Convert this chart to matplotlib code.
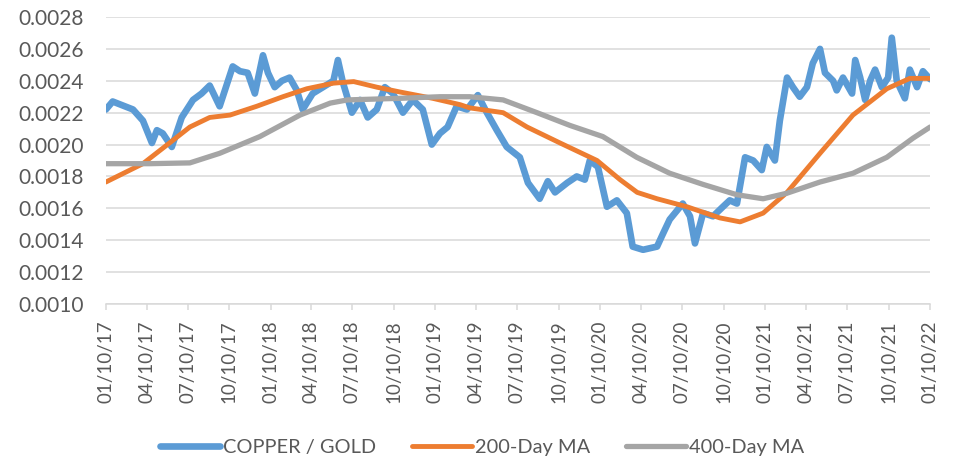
import matplotlib
matplotlib.use("Agg")
import matplotlib.pyplot as plt
import matplotlib.dates as mdates
import pandas as pd

plt.rcParams['font.family'] = ['Lato', 'DejaVu Sans']

# copper / gold ratio
cg_dates = ["2017-01-10", "2017-01-25", "2017-03-11", "2017-04-02", "2017-04-22",
            "2017-05-03", "2017-05-16", "2017-06-05", "2017-06-27", "2017-07-22",
            "2017-08-10", "2017-08-28", "2017-09-19", "2017-10-18", "2017-11-03",
            "2017-11-20", "2017-12-06", "2017-12-24", "2018-01-04", "2018-01-19",
            "2018-02-04", "2018-02-21", "2018-03-09", "2018-03-22", "2018-04-13",
            "2018-05-06", "2018-05-29", "2018-06-08", "2018-06-19", "2018-07-09",
            "2018-07-27", "2018-08-13", "2018-09-02", "2018-09-20", "2018-10-08",
            "2018-10-30", "2018-11-21", "2018-12-13", "2019-01-02", "2019-01-20",
            "2019-02-06", "2019-02-26", "2019-03-21", "2019-04-14", "2019-05-04",
            "2019-05-26", "2019-06-17", "2019-07-16", "2019-08-03", "2019-08-29",
            "2019-09-16", "2019-10-02", "2019-10-29", "2019-11-19", "2019-12-07",
            "2019-12-18", "2020-01-05", "2020-01-25", "2020-02-16", "2020-03-09",
            "2020-03-22", "2020-04-14", "2020-05-15", "2020-05-28", "2020-06-12",
            "2020-07-11", "2020-07-27", "2020-08-07", "2020-08-25", "2020-09-16",
            "2020-10-08", "2020-10-23", "2020-11-08", "2020-11-26", "2020-12-14",
            "2021-01-02", "2021-01-13", "2021-01-31", "2021-02-11", "2021-02-27",
            "2021-03-12", "2021-03-27", "2021-04-12", "2021-04-25", "2021-05-11",
            "2021-05-22", "2021-06-09", "2021-06-17", "2021-07-01", "2021-07-21",
            "2021-07-28", "2021-08-08", "2021-08-19", "2021-08-30", "2021-09-10",
            "2021-09-25", "2021-10-09", "2021-10-17", "2021-10-28", "2021-11-15",
            "2021-11-26", "2021-12-12", "2021-12-25", "2022-01-10"]
cg_vals = [0.00222, 0.00227, 0.00222, 0.00215, 0.00201, 0.00209, 0.00207, 0.001985,
           0.00217, 0.00228, 0.00232, 0.00237, 0.00224, 0.00249, 0.00246, 0.00245,
           0.00232, 0.00256, 0.00245, 0.00236, 0.00240, 0.00242, 0.00234, 0.00222,
           0.00232, 0.00236, 0.00240, 0.00253, 0.00239, 0.00220, 0.00228, 0.00217,
           0.00222, 0.00236, 0.00232, 0.00220, 0.00228, 0.00222, 0.00200, 0.00207,
           0.00211, 0.00224, 0.00222, 0.00231, 0.00220, 0.00209, 0.001985, 0.00192,
           0.00176, 0.00166, 0.00177, 0.00170, 0.00176, 0.00180, 0.00178, 0.00190,
           0.00186, 0.00161, 0.00165, 0.00157, 0.00136, 0.00134, 0.00136, 0.00144,
           0.00153, 0.00163, 0.00155, 0.00138, 0.00157, 0.00155, 0.00161, 0.00165,
           0.00163, 0.00192, 0.00190, 0.00184, 0.001985, 0.00190, 0.00215, 0.00242,
           0.00236, 0.00230, 0.00236, 0.00251, 0.00260, 0.00245, 0.00240, 0.00234,
           0.00242, 0.00232, 0.00253, 0.00242, 0.00228, 0.00240, 0.00247, 0.00236,
           0.00242, 0.00267, 0.00240, 0.00229, 0.00247, 0.00236, 0.00246, 0.00241]

ma200_dates = ["2017-01-10", "2017-04-02", "2017-05-31", "2017-07-15", "2017-08-28",
               "2017-10-12", "2017-12-10", "2018-02-06", "2018-03-31", "2018-05-29",
               "2018-07-13", "2018-09-02", "2018-10-23", "2019-01-04", "2019-03-06",
               "2019-03-27", "2019-06-09", "2019-08-01", "2019-10-13", "2020-01-03",
               "2020-02-23", "2020-04-01", "2020-05-15", "2020-07-20", "2020-10-01",
               "2020-11-15", "2021-01-05", "2021-02-27", "2021-05-11", "2021-07-23",
               "2021-10-06", "2021-11-26", "2022-01-10"]
ma200_vals = [0.001765, 0.00188, 0.00201, 0.00211, 0.00217, 0.002185, 0.00224, 0.00230,
              0.00235, 0.002385, 0.002395, 0.00236, 0.00233, 0.00229, 0.00225, 0.00223,
              0.00220, 0.00211, 0.00201, 0.00190, 0.00178, 0.00170, 0.00166, 0.00161,
              0.00154, 0.001515, 0.00157, 0.00170, 0.001945, 0.002185, 0.00235,
              0.002415, 0.002415]

ma400_dates = ["2017-01-10", "2017-04-17", "2017-07-15", "2017-09-19", "2017-12-17",
               "2018-03-16", "2018-05-22", "2018-06-29", "2018-10-23", "2019-01-20",
               "2019-03-27", "2019-06-09", "2019-08-23", "2019-11-04", "2020-01-16",
               "2020-03-31", "2020-06-12", "2020-08-25", "2020-11-08", "2021-01-05",
               "2021-02-27", "2021-05-11", "2021-07-23", "2021-10-06", "2021-12-03",
               "2022-01-10"]
ma400_vals = [0.00188, 0.00188, 0.001885, 0.001945, 0.00205, 0.002185, 0.00226, 0.00228,
              0.00229, 0.00230, 0.00230, 0.00228, 0.00220, 0.00212, 0.00205, 0.00192,
              0.00182, 0.00175, 0.001685, 0.00166, 0.001695, 0.001765, 0.00182,
              0.00192, 0.00204, 0.00211]

tick_dates = pd.date_range("2017-01-10", periods=21, freq=pd.DateOffset(months=3))
y_ticks = [0.0010, 0.0012, 0.0014, 0.0016, 0.0018, 0.0020, 0.0022, 0.0024, 0.0026, 0.0028]

fig = plt.figure(figsize=(9.54, 4.61), dpi=100)
ax = fig.add_axes([0.111, 0.3406, 0.864, 0.6225])

ax.plot(pd.to_datetime(cg_dates), cg_vals, color="#5B9BD5", lw=4.8,
        solid_joinstyle="round", solid_capstyle="round", label="COPPER / GOLD")
ax.plot(pd.to_datetime(ma200_dates), ma200_vals, color="#ED7D31", lw=3.5,
        solid_joinstyle="round", solid_capstyle="round", label="200-Day MA")
ax.plot(pd.to_datetime(ma400_dates), ma400_vals, color="#A5A5A5", lw=3.8,
        solid_joinstyle="round", solid_capstyle="round", label="400-Day MA")

ax.set_xlim(pd.Timestamp("2017-01-10"), pd.Timestamp("2022-01-10"))
ax.set_ylim(0.0010, 0.0028)
ax.set_yticks(y_ticks)
ax.set_yticklabels(["{:.4f}".format(v) for v in y_ticks])
ax.set_xticks(tick_dates)
ax.xaxis.set_major_formatter(mdates.DateFormatter("%m/%d/%y"))
ax.grid(axis="y", color="#D9D9D9", lw=1.1)
ax.set_axisbelow(True)

for s in ["top", "right", "left"]:
    ax.spines[s].set_visible(False)
ax.spines["bottom"].set_color("#D9D9D9")
ax.spines["bottom"].set_linewidth(1.1)

ax.tick_params(axis="y", length=0, pad=16, labelsize=15, labelcolor="#595959")
ax.tick_params(axis="x", length=4, width=1.1, color="#D9D9D9", pad=8,
               labelsize=13.5, labelcolor="#595959", labelrotation=90)

fig.legend(loc="center", bbox_to_anchor=(0.505, 0.03), ncol=3, frameon=False,
           fontsize=14.4, labelcolor="#595959", handlelength=3.0, handletextpad=0.15,
           columnspacing=1.8)

fig.savefig("out.png", dpi=100)
